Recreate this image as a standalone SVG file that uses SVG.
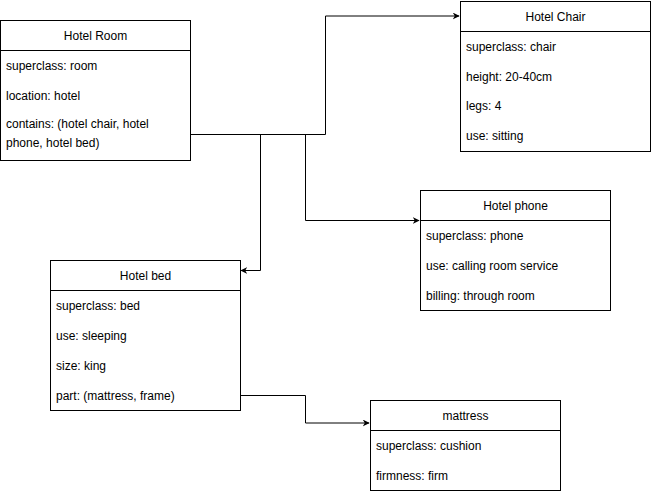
<svg xmlns="http://www.w3.org/2000/svg" width="651" height="492" viewBox="0 0 651 492">
<style>
.box{fill:#fff;stroke:#000;stroke-width:1}
.sep{stroke:#000;stroke-width:1}
text{font-family:"Liberation Sans",Arial,sans-serif;font-size:12px;fill:#000}
.h{text-anchor:middle}
.edge{fill:none;stroke:#000;stroke-width:1}
</style>
<defs>
<marker id="arr" viewBox="0 0 10 10" refX="9" refY="5" markerWidth="7" markerHeight="7" markerUnits="userSpaceOnUse" orient="auto">
<path d="M0,0 L10,5 L0,10 L3,5 Z" fill="#000" stroke="none"/>
</marker>
</defs>
<rect width="651" height="492" fill="#fff"/>
<g id="connectors">
<path class="edge" d="M190,134.5 H325.5 V16 H459" marker-end="url(#arr)"/>
<path class="edge" d="M190,134.5 H305.5 V220.5 H419" marker-end="url(#arr)"/>
<path class="edge" d="M190,134.5 H260.5 V270.5 H241" marker-end="url(#arr)"/>
<path class="edge" d="M240,395.5 H305.5 V423 H369" marker-end="url(#arr)"/>
</g>
<g id="hotel-room">
<rect class="box" x="0.5" y="20.5" width="190" height="140"/>
<line class="sep" x1="0.5" y1="50.5" x2="190.5" y2="50.5"/>
<text class="h" x="95.5" y="40">Hotel Room</text>
<text x="6" y="70">superclass: room</text>
<text x="6" y="100">location: hotel</text>
<text x="6" y="128">contains: (hotel chair, hotel</text>
<text x="6" y="147">phone, hotel bed)</text>
</g>
<g id="hotel-chair">
<rect class="box" x="460.5" y="1.5" width="190" height="150"/>
<line class="sep" x1="460.5" y1="31.5" x2="650.5" y2="31.5"/>
<text class="h" x="555.5" y="20.5">Hotel Chair</text>
<text x="466" y="50.5">superclass: chair</text>
<text x="466" y="80.5">height: 20-40cm</text>
<text x="466" y="110">legs: 4</text>
<text x="466" y="139.5">use: sitting</text>
</g>
<g id="hotel-phone">
<rect class="box" x="420.5" y="190.5" width="190" height="120"/>
<line class="sep" x1="420.5" y1="220.5" x2="610.5" y2="220.5"/>
<text class="h" x="515.5" y="210">Hotel phone</text>
<text x="426" y="240">superclass: phone</text>
<text x="426" y="270">use: calling room service</text>
<text x="426" y="299.5">billing: through room</text>
</g>
<g id="hotel-bed">
<rect class="box" x="50.5" y="260.5" width="190" height="150"/>
<line class="sep" x1="50.5" y1="290.5" x2="240.5" y2="290.5"/>
<text class="h" x="145.5" y="280">Hotel bed</text>
<text x="56" y="310">superclass: bed</text>
<text x="56" y="339.5">use: sleeping</text>
<text x="56" y="369.5">size: king</text>
<text x="56" y="399.5">part: (mattress, frame)</text>
</g>
<g id="mattress">
<rect class="box" x="370.5" y="400.5" width="190" height="90"/>
<line class="sep" x1="370.5" y1="430.5" x2="560.5" y2="430.5"/>
<text class="h" x="465.5" y="420">mattress</text>
<text x="376" y="449.5">superclass: cushion</text>
<text x="376" y="479.5">firmness: firm</text>
</g>
</svg>
